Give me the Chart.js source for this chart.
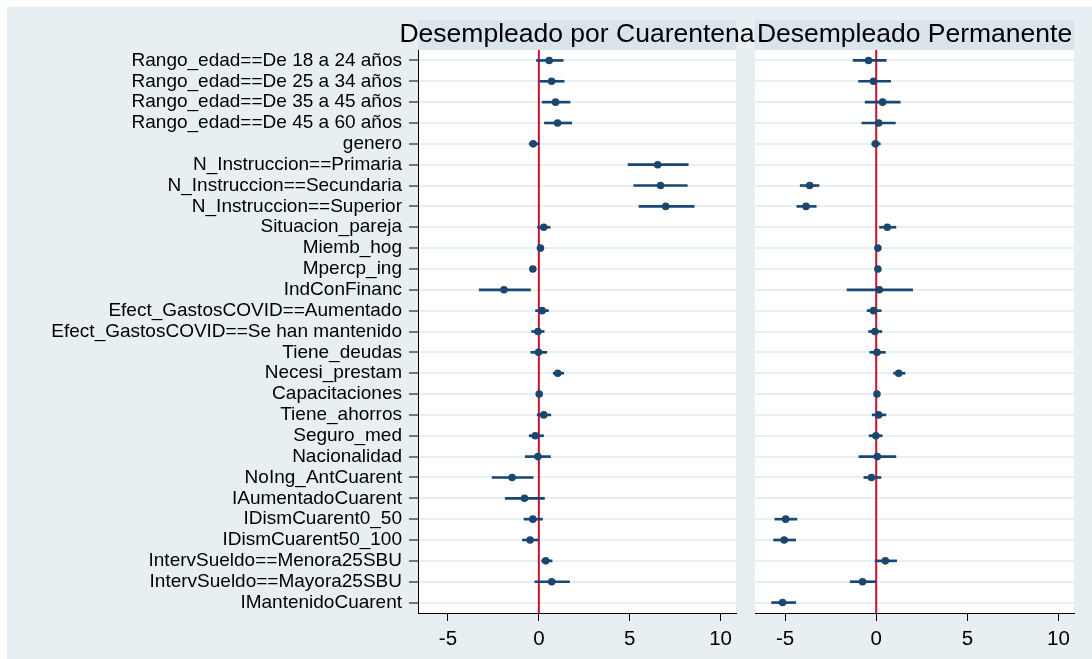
<!DOCTYPE html>
<html>
<head>
<meta charset="utf-8">
<script src="https://cdn.jsdelivr.net/npm/chart.js@4"></script>
<style>
  html, body { margin: 0; padding: 0; background: #ffffff; }
  #frame { position: absolute; left: 7px; top: 7px; width: 1085px; height: 652px; background: #e8eff2; }
  canvas { position: absolute; }
  #left { left: 7px; top: 7px; }
  #right { left: 747px; top: 7px; }
</style>
</head>
<body>
<div id="frame"></div>
<canvas id="left" width="1085" height="652"></canvas>
<canvas id="right" width="345" height="652"></canvas>
<script>
// Regressors, top to bottom
const categories = [
  'Rango_edad==De 18 a 24 años',
  'Rango_edad==De 25 a 34 años',
  'Rango_edad==De 35 a 45 años',
  'Rango_edad==De 45 a 60 años',
  'genero',
  'N_Instruccion==Primaria',
  'N_Instruccion==Secundaria',
  'N_Instruccion==Superior',
  'Situacion_pareja',
  'Miemb_hog',
  'Mpercp_ing',
  'IndConFinanc',
  'Efect_GastosCOVID==Aumentado',
  'Efect_GastosCOVID==Se han mantenido',
  'Tiene_deudas',
  'Necesi_prestam',
  'Capacitaciones',
  'Tiene_ahorros',
  'Seguro_med',
  'Nacionalidad',
  'NoIng_AntCuarent',
  'IAumentadoCuarent',
  'IDismCuarent0_50',
  'IDismCuarent50_100',
  'IntervSueldo==Menora25SBU',
  'IntervSueldo==Mayora25SBU',
  'IMantenidoCuarent'
];

const panelTitles = ['Desempleado por Cuarentena', 'Desempleado Permanente'];

// Desempleado por Cuarentena: coefficient and confidence interval
const cuarentenaCoef = [0.57, 0.70, 0.92, 1.03, -0.31, 6.54, 6.70, 6.98, 0.27, 0.09, -0.33, -1.92, 0.18, -0.05, -0.02, 1.04, 0.02, 0.27, -0.20, -0.05, -1.47, -0.79, -0.33, -0.48, 0.38, 0.71, null];
const cuarentenaLo   = [-0.13, 0.05, 0.18, 0.31, -0.53, 4.91, 5.22, 5.51, -0.07, 0.00, -0.42, -3.28, -0.18, -0.40, -0.44, 0.79, -0.08, -0.09, -0.53, -0.75, -2.57, -1.85, -0.82, -0.90, 0.15, -0.22, null];
const cuarentenaHi   = [1.34, 1.39, 1.72, 1.81, 0.02, 8.22, 8.17, 8.55, 0.62, 0.18, -0.24, -0.46, 0.53, 0.29, 0.44, 1.37, 0.12, 0.66, 0.26, 0.64, -0.31, 0.31, 0.20, 0.00, 0.73, 1.69, null];

// Desempleado Permanente: coefficient and confidence interval
const permanenteCoef = [-0.42, -0.15, 0.35, 0.13, -0.04, null, -3.65, -3.85, 0.61, 0.09, 0.09, 0.17, -0.15, -0.07, 0.04, 1.23, 0.04, 0.13, -0.02, 0.06, -0.26, null, -4.97, -5.05, 0.50, -0.75, -5.14];
const permanenteLo   = [-1.27, -0.97, -0.61, -0.79, -0.24, null, -4.17, -4.35, 0.18, 0.00, 0.00, -1.60, -0.50, -0.42, -0.35, 0.95, -0.05, -0.22, -0.39, -0.95, -0.68, null, -5.56, -5.63, -0.06, -1.43, -5.74];
const permanenteHi   = [0.55, 0.79, 1.32, 1.05, 0.22, null, -3.14, -3.29, 1.08, 0.18, 0.18, 2.00, 0.27, 0.31, 0.50, 1.58, 0.13, 0.53, 0.33, 1.08, 0.26, null, -4.35, -4.42, 1.12, 0.00, -4.42];

const xTickValues = [-5, 0, 5, 10];
const xMin = -6.65, xMax = 10.85;

const NAVY = '#1a476f';
const RED = '#c8102e';
const FONT = "'Liberation Sans', Arial, sans-serif";

// Panel background, title strip and the zero reference line
const panelDecor = {
  id: 'panelDecor',
  beforeDraw(chart, args, opts) {
    const { ctx, chartArea: a } = chart;
    ctx.save();
    ctx.fillStyle = '#ffffff';
    ctx.fillRect(a.left, a.top, a.right - a.left, a.bottom - a.top);
    ctx.fillStyle = '#d9e5eb';
    ctx.fillRect(a.left, a.top - 30, a.right - a.left, 30);
    ctx.fillStyle = '#000000';
    ctx.font = '26.5px ' + FONT;
    ctx.textAlign = 'center';
    ctx.textBaseline = 'alphabetic';
    ctx.fillText(opts.title, (a.left + a.right) / 2, a.top - 8);
    ctx.restore();
  },
  beforeDatasetsDraw(chart) {
    const { ctx, chartArea: a, scales } = chart;
    const x0 = scales.x.getPixelForValue(0);
    ctx.save();
    ctx.strokeStyle = RED;
    ctx.lineWidth = 2;
    ctx.beginPath();
    ctx.moveTo(x0, a.top);
    ctx.lineTo(x0, a.bottom);
    ctx.stroke();
    ctx.restore();
  }
};

function makePanel(id, title, coef, lo, hi, showLabels, yWidth, padLeft, padRight) {
  const ranges = lo.map((l, i) => (l == null ? null : [l, hi[i]]));
  return new Chart(document.getElementById(id), {
    type: 'bar',
    data: {
      labels: categories,
      datasets: [
        {
          type: 'line',
          indexAxis: 'y',
          data: coef,
          showLine: false,
          pointRadius: 3.8,
          pointHoverRadius: 3.8,
          pointBackgroundColor: NAVY,
          pointBorderColor: NAVY,
          pointBorderWidth: 0
        },
        {
          type: 'bar',
          indexAxis: 'y',
          data: ranges,
          backgroundColor: NAVY,
          borderWidth: 0,
          barThickness: 2
        }
      ]
    },
    options: {
      indexAxis: 'y',
      responsive: false,
      animation: false,
      devicePixelRatio: 1,
      layout: { padding: { top: 43, right: padRight, left: padLeft, bottom: 0 } },
      plugins: {
        legend: { display: false },
        tooltip: { enabled: false },
        panelDecor: { title: title }
      },
      scales: {
        y: {
          type: 'category',
          offset: true,
          grid: {
            offset: false,
            color: '#e9f0f2',
            lineWidth: 2,
            drawTicks: showLabels,
            tickLength: 9,
            tickColor: '#000000',
            tickWidth: 1
          },
          border: { display: showLabels, color: '#000000', width: 1 },
          ticks: {
            display: showLabels,
            color: '#000000',
            padding: 7,
            autoSkip: false,
            font: { family: FONT, size: 19 }
          },
          afterFit(scale) { scale.width = yWidth; }
        },
        x: {
          type: 'linear',
          min: xMin,
          max: xMax,
          grid: {
            display: true,
            drawOnChartArea: false,
            drawTicks: true,
            tickLength: 8,
            tickColor: '#000000',
            tickWidth: 1
          },
          border: { display: true, color: '#000000', width: 1 },
          ticks: {
            color: '#000000',
            padding: 6,
            font: { family: FONT, size: 20.5 },
            callback: (v) => String(v)
          },
          afterBuildTicks(scale) { scale.ticks = xTickValues.map(v => ({ value: v })); },
          afterFit(scale) { scale.height = 46; }
        }
      }
    },
    plugins: [panelDecor]
  });
}

makePanel('left', panelTitles[0], cuarentenaCoef, cuarentenaLo, cuarentenaHi, true, 411, 0, 356);
makePanel('right', panelTitles[1], permanenteCoef, permanenteLo, permanenteHi, false, 8, 0, 18);
</script>
</body>
</html>
